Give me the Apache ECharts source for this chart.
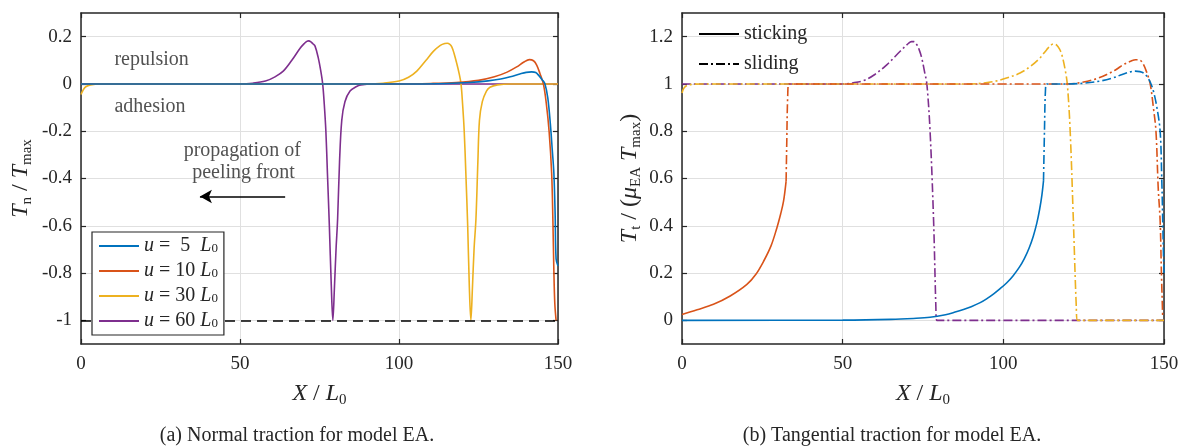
<!DOCTYPE html>
<html><head><meta charset="utf-8">
<script src="https://cdn.jsdelivr.net/npm/echarts@6/dist/echarts.min.js"></script>
<style>html,body{margin:0;padding:0;background:#fff}#c{width:1191px;height:448px}</style>
</head><body><div id="c"></div>
<script>
// ---------- DATA ----------
const X_TICKS = [0, 50, 100, 150];
const LEFT_Y_TICKS = [-1, -0.8, -0.6, -0.4, -0.2, 0, 0.2];
const RIGHT_Y_TICKS = [0, 0.2, 0.4, 0.6, 0.8, 1, 1.2];
const U_VALUES = ['5', '10', '30', '60'];

// (a) normal traction Tn/Tmax vs X/L0
const normal5 = [[0,0],[105,0],[115,0.002],[122,0.006],[128,0.013],[132,0.021],[135,0.03],[138,0.042],[140,0.049],[141.7,0.051],[143,0.048],[144,0.035],[145,0.018],[145.9,0],[146.8,-0.06],[147.6,-0.17],[148.2,-0.28],[148.7,-0.377],[149.1,-0.55],[149.4,-0.74],[150,-0.77]];
const normal10 = [[0,0],[100,0],[110,0.002],[118,0.006],[125,0.015],[130,0.03],[134,0.05],[137,0.072],[139.3,0.093],[141,0.103],[142.3,0.098],[143.3,0.08],[144.3,0.045],[145.4,0],[146.3,-0.08],[147.2,-0.2],[148,-0.377],[148.4,-0.58],[148.7,-0.79],[149,-0.93],[149.4,-1.0]];
const normal30 = [[0,-0.045],[0.7,-0.025],[1.5,-0.012],[3,-0.004],[6,0],[90,0],[95,0.003],[100,0.012],[103,0.028],[105.6,0.054],[108.5,0.1],[110.8,0.1375],[113,0.163],[114.4,0.171],[115.2,0.172],[116,0.167],[116.6,0.157],[117.3,0.13],[118.1,0.09],[118.9,0.045],[119.5,0],[120,-0.086],[120.5,-0.198],[121,-0.37],[121.6,-0.6],[122.1,-0.85],[122.6,-1.0],[123.1,-0.86],[123.6,-0.7],[124.2,-0.57],[124.8,-0.33],[125.3,-0.154],[126.2,-0.075],[127.5,-0.03],[128.6,-0.014],[131,-0.004],[135,0],[150,0]];
const normal60 = [[0,0],[50,0],[54,0.003],[58,0.012],[61,0.03],[63.6,0.054],[66.3,0.1],[68.9,0.151],[70.3,0.172],[71,0.18],[71.6,0.182],[72.3,0.178],[72.9,0.17],[73.6,0.16],[74.6,0.111],[75.4,0.055],[76,0],[76.5,-0.086],[77,-0.198],[77.5,-0.38],[78.1,-0.6],[78.7,-0.85],[79.2,-1.0],[79.7,-0.86],[80.2,-0.7],[80.7,-0.57],[81.3,-0.33],[82,-0.154],[83,-0.075],[84.6,-0.03],[86.5,-0.012],[88,-0.004],[92,0],[150,0]];

// (b) tangential traction Tt/(mu Tmax) vs X/L0
const stick5 = [[0,0],[50,0.001],[65,0.004],[72,0.008],[77.2,0.013],[82,0.024],[85,0.035],[87.6,0.046],[90,0.058],[92.8,0.075],[95,0.093],[97,0.112],[99,0.134],[101,0.158],[103,0.188],[105,0.225],[106.5,0.26],[108,0.305],[109.3,0.355],[110.4,0.41],[111.3,0.47],[112,0.53],[112.5,0.59]];
const slide5 = [[112.5,0.59],[112.8,0.8],[113.1,0.97],[113.5,1.0],[114.7,1.0],[120,1.0],[125,1.003],[130,1.012],[134,1.025],[137,1.04],[139.5,1.051],[141,1.054],[142.5,1.052],[143.8,1.045],[144.8,1.03],[145.8,1.005],[146.7,0.97],[147.8,0.9],[148.8,0.8],[149.3,0.6],[149.8,0.3],[150,0.2]];
const stick10 = [[0,0.025],[4.7,0.045],[9.8,0.068],[15,0.103],[20.2,0.152],[23,0.195],[25.4,0.25],[27.7,0.315],[29.5,0.39],[30.7,0.45],[31.6,0.504],[32.4,0.589]];
const slide10 = [[32.4,0.589],[32.6,0.75],[32.9,0.95],[33.3,1.0],[34.5,1.0],[60,1.0],[100,1.0],[120,1.0],[125,1.008],[129,1.022],[132.2,1.04],[135,1.06],[137.4,1.082],[139.8,1.097],[141.2,1.102],[142.2,1.102],[143.3,1.09],[144.6,1.05],[145.7,1.0],[146.7,0.9],[147.5,0.8],[148.2,0.56],[148.8,0.42],[149.2,0.2],[149.6,0.01]];
const slide30 = [[0,0.962],[0.6,0.982],[1.5,0.993],[3,0.998],[6,1.0],[90,1.0],[94,1.004],[97,1.01],[101,1.025],[105.2,1.046],[108.5,1.075],[111.4,1.11],[113.5,1.145],[114.8,1.164],[115.7,1.169],[116.6,1.164],[117.5,1.147],[118.2,1.124],[119.1,1.07],[119.9,1.0],[120.8,0.8],[121.8,0.42],[122.7,0.06],[123.1,0],[124.3,0],[150,0]];
const slide60 = [[0,1.0],[50,1.0],[53,1.004],[56.5,1.014],[60,1.04],[63.8,1.082],[67.9,1.138],[70.5,1.172],[71.4,1.179],[72.2,1.179],[73,1.168],[73.8,1.145],[74.6,1.11],[75.5,1.05],[76.2,1.0],[77.2,0.8],[78.3,0.42],[79,0.06],[79.3,0],[80.5,0],[150,0]];

const annotations = [
  { text: 'repulsion', x: 22.2, y: 0.101 },
  { text: 'adhesion', x: 21.7, y: -0.097 },
  { text: 'propagation of', x: 50.7, y: -0.283 },
  { text: 'peeling front', x: 51.1, y: -0.377 }
];
const arrowFrom = [64.2, -0.476];
const arrowTo = [37.4, -0.476];
const limitLine = -1;
const captions = ['(a) Normal traction for model EA.', '(b) Tangential traction for model EA.'];

// ---------- STYLE ----------
const FONT = "'Liberation Serif','DejaVu Serif',serif";
const AXIS_COLOR = '#262626';
const GRID_COLOR = '#e0e0e0';
const COLORS = ['#0072BD', '#D95319', '#EDB120', '#7E2F8E'];
const DASHDOT = [9, 3, 2, 3];
const LW = 1.6;

const richMath = {
  i: { fontFamily: FONT, fontStyle: 'italic', fontSize: 24, color: '#262626', lineHeight: 28 },
  r: { fontFamily: FONT, fontSize: 24, color: '#262626', lineHeight: 28 },
  sub: { fontFamily: FONT, fontSize: 15, color: '#262626', verticalAlign: 'bottom', lineHeight: 28 }
};

function axisLineStyle() { return { onZero: false, lineStyle: { color: AXIS_COLOR, width: 1.5 } }; }
function tickStyle(custom) {
  const t = { inside: true, length: 5, lineStyle: { color: AXIS_COLOR, width: 1.2 } };
  if (custom) t.customValues = custom;
  return t;
}
const labelStyle = { color: '#262626', fontFamily: FONT, fontSize: 19 };

function makeX(gridIndex) {
  return [
    { type: 'value', gridIndex, position: 'bottom', min: 0, max: 150, interval: 50,
      axisLine: axisLineStyle(), axisTick: tickStyle(),
      axisLabel: Object.assign({ margin: 11 }, labelStyle),
      splitLine: { show: true, lineStyle: { color: GRID_COLOR, width: 1 } },
      name: '{i|X}{r| / }{i|L}{sub|0}', nameLocation: 'middle', nameGap: 36,
      nameTextStyle: { rich: richMath } },
    { type: 'value', gridIndex, position: 'top', min: 0, max: 150, interval: 50,
      axisLine: axisLineStyle(), axisTick: tickStyle(), axisLabel: { show: false }, splitLine: { show: false } }
  ];
}
function makeY(gridIndex, min, max, ticks, name, gap) {
  return [
    { type: 'value', gridIndex, position: 'left', min, max,
      axisLine: axisLineStyle(), axisTick: tickStyle(ticks),
      axisLabel: Object.assign({ customValues: ticks, margin: 9 }, labelStyle),
      splitLine: { show: true, lineStyle: { color: GRID_COLOR, width: 1 } },
      name, nameLocation: 'middle', nameGap: gap, nameRotate: 90,
      nameTextStyle: { rich: richMath } },
    { type: 'value', gridIndex, position: 'right', min, max,
      axisLine: axisLineStyle(), axisTick: tickStyle(ticks), axisLabel: { show: false }, splitLine: { show: false } }
  ];
}

function lineSeries(name, data, color, xi, yi, dashed, z) {
  return { name, type: 'line', data, xAxisIndex: xi, yAxisIndex: yi, symbol: 'none', showSymbol: false,
    smooth: 0.35, z: z || 2, animation: false,
    lineStyle: { color, width: LW, type: dashed ? DASHDOT : 'solid' }, itemStyle: { color } };
}

const uNames = U_VALUES.map(v => 'u' + v);

const option = {
  animation: false,
  backgroundColor: '#fff',
  grid: [
    { left: 81, top: 13, width: 477, height: 331 },
    { left: 682, top: 13, width: 482, height: 331 }
  ],
  xAxis: makeX(0).concat(makeX(1)),
  yAxis: makeY(0, -1.1, 0.3, LEFT_Y_TICKS, '{i|T}{sub|n}{r| / }{i|T}{sub|max}', 46)
    .concat(makeY(1, -0.1, 1.3, RIGHT_Y_TICKS, '{i|T}{sub|t}{r| / (}{i|μ}{sub|EA}{r| }{i|T}{sub|max}{r|)}', 38)),
  legend: [
    { data: uNames, orient: 'vertical', left: 92, top: 232, itemWidth: 40, itemHeight: 14, itemGap: 5,
      padding: [4, 6, 4, 6], borderColor: AXIS_COLOR, borderWidth: 1.2, backgroundColor: '#fff', z: 10,
      selectedMode: false, itemStyle: { opacity: 0 },
      formatter: function (name) {
        const v = name.slice(1);
        return '{i|u}{r| = }{n|' + v + '}{r| }{i|L}{sub|0}';
      },
      textStyle: { fontFamily: FONT, fontSize: 19, color: '#262626',
        rich: {
          i: { fontFamily: FONT, fontStyle: 'italic', fontSize: 20, color: '#262626', lineHeight: 19 },
          r: { fontFamily: FONT, fontSize: 20, color: '#262626', lineHeight: 19 },
          n: { fontFamily: FONT, fontSize: 20, color: '#262626', width: 20, align: 'right', lineHeight: 19 },
          sub: { fontFamily: FONT, fontSize: 13, color: '#262626', verticalAlign: 'bottom', lineHeight: 19 }
        } } },
    { data: ['sticking', 'sliding'], orient: 'vertical', left: 693, top: 24, itemWidth: 40, itemHeight: 12, itemGap: 10,
      padding: [0, 5, 0, 5], selectedMode: false, itemStyle: { opacity: 0 },
      textStyle: { fontFamily: FONT, fontSize: 20, color: '#262626' } }
  ],
  graphic: [
    { type: 'text', x: 297, y: 436, style: { text: captions[0], font: '20px ' + FONT, fill: '#262626', align: 'center', verticalAlign: 'middle', textAlign: 'center', textVerticalAlign: 'middle' } },
    { type: 'text', x: 892, y: 436, style: { text: captions[1], font: '20px ' + FONT, fill: '#262626', align: 'center', verticalAlign: 'middle', textAlign: 'center', textVerticalAlign: 'middle' } }
  ],
  series: [
    lineSeries('u60', normal60, COLORS[3], 0, 0, false, 2),
    lineSeries('u30', normal30, COLORS[2], 0, 0, false, 3),
    lineSeries('u10', normal10, COLORS[1], 0, 0, false, 4),
    lineSeries('u5', normal5, COLORS[0], 0, 0, false, 5),
    lineSeries('s60', slide60, COLORS[3], 2, 2, true, 2),
    lineSeries('s30', slide30, COLORS[2], 2, 2, true, 3),
    lineSeries('s10', slide10, COLORS[1], 2, 2, true, 4),
    lineSeries('k10', stick10, COLORS[1], 2, 2, false, 4),
    lineSeries('s5', slide5, COLORS[0], 2, 2, true, 5),
    lineSeries('k5', stick5, COLORS[0], 2, 2, false, 5),
    lineSeries('sticking', [], '#000', 2, 2, false, 1),
    lineSeries('sliding', [], '#000', 2, 2, true, 1),
    { name: 'annot', type: 'scatter', xAxisIndex: 0, yAxisIndex: 0, symbolSize: 0, z: 6, silent: true,
      data: annotations.map(a => ({ value: [a.x, a.y], label: { show: true, formatter: a.text } })),
      label: { show: true, position: 'inside', fontFamily: FONT, fontSize: 20, color: '#262626' },
      markLine: { silent: true, symbol: ['none', 'none'], label: { show: false },
        lineStyle: { color: '#000', width: 1.6, type: [10, 6] },
        data: [{ yAxis: limitLine }] } },
    { name: 'arrow', type: 'line', xAxisIndex: 0, yAxisIndex: 0, data: [], z: 6,
      markLine: { silent: true, symbol: ['none', 'arrow'], symbolSize: [10, 12], label: { show: false },
        lineStyle: { color: '#000', width: 1.5, type: 'solid' },
        data: [[{ coord: arrowFrom }, { coord: arrowTo }]] } }
  ]
};
const chart = echarts.init(document.getElementById('c'), null, { renderer: 'canvas' });
chart.setOption(option);
</script></body></html>
